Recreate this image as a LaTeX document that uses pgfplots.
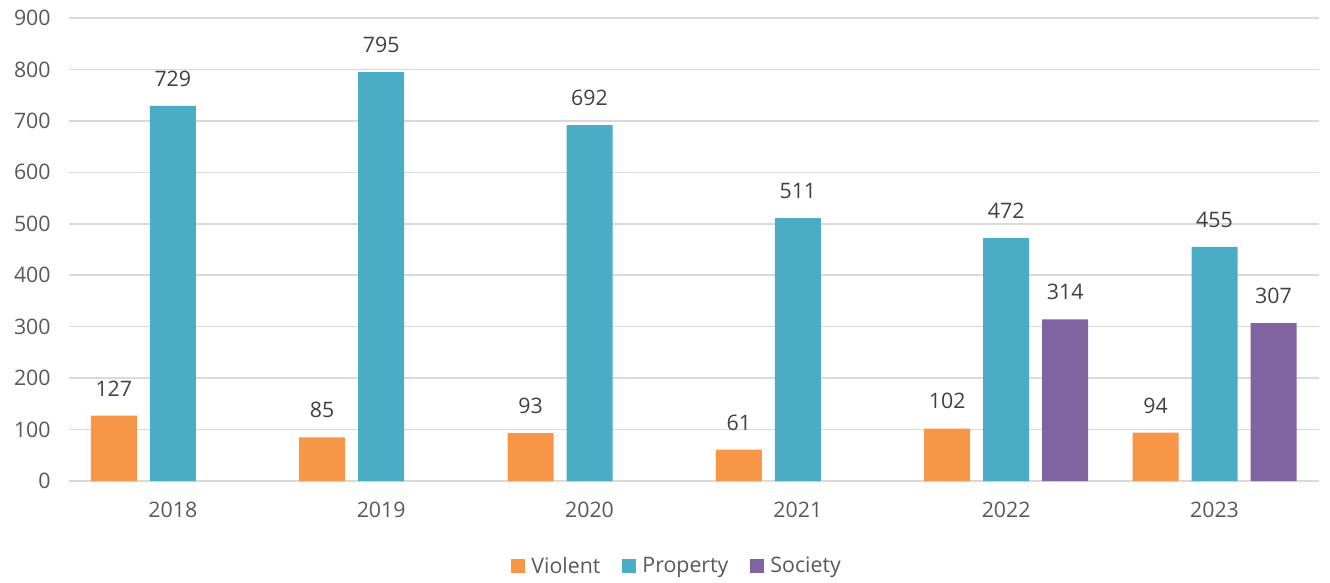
\documentclass[border=0pt]{standalone}
\usepackage{pgfplots}
\pgfplotsset{compat=1.18}
\usepackage{fontspec}
\setmainfont{Open Sans}
\definecolor{cV}{HTML}{F79646}
\definecolor{cP}{HTML}{4BACC6}
\definecolor{cS}{HTML}{8064A2}
\definecolor{gridc}{HTML}{D9D9D9}
\definecolor{tickc}{HTML}{595959}
\definecolor{labelc}{HTML}{404040}
\begin{document}
\begin{tikzpicture}
\path[use as bounding box] (0,0) rectangle (997.5pt,436.5pt);
\begin{axis}[
  at={(51.5pt,75.75pt)}, anchor=south west,
  scale only axis, width=937.5pt, height=347.25pt,
  xmin=-0.5, xmax=5.5, ymin=0, ymax=900,
  xtick={0,1,2,3,4,5}, xticklabels={2018,2019,2020,2021,2022,2023},
  ytick={0,100,...,900},
  ymajorgrids, grid style={color=gridc, line width=1.1pt},
  axis x line*=bottom, axis y line*=left,
  y axis line style={draw=none},
  x axis line style={color=gridc, line width=1.1pt},
  major tick length=0pt,
  /pgf/number format/assume math mode=true,
  ticklabel style={font=\fontsize{16}{19}\selectfont, text=tickc},
  yticklabel style={xshift=-10pt},
  xticklabel style={yshift=-12pt},
  ybar=9.75pt, bar width=34.5pt,
  nodes near coords,
  every node near coord/.append style={font=\fontsize{16}{19}\selectfont, text=labelc, yshift=11pt},
  legend style={at={(0.4868,-0.1836)}, anchor=center, draw=none,
    font=\fontsize{16}{19}\selectfont, text=tickc, legend columns=-1,
    /tikz/every even column/.append style={column sep=14pt},
    /tikz/every odd column/.append style={column sep=3pt}},
]
\addplot[fill=cV, draw=none, legend image code/.code={\fill[cV] (0pt,-5.25pt) rectangle (10.5pt,5.25pt);}]
  coordinates {(0,127) (1,85) (2,93) (3,61) (4,102) (5,94)};
\addlegendentry{Violent}
\addplot[fill=cP, draw=none, legend image code/.code={\fill[cP] (0pt,-5.25pt) rectangle (10.5pt,5.25pt);}]
  coordinates {(0,729) (1,795) (2,692) (3,511) (4,472) (5,455)};
\addlegendentry{Property}
\addplot[fill=cS, draw=none, legend image code/.code={\fill[cS] (0pt,-5.25pt) rectangle (10.5pt,5.25pt);}]
  coordinates {(4,314) (5,307)};
\addlegendentry{Society}
\end{axis}
\end{tikzpicture}
\end{document}
